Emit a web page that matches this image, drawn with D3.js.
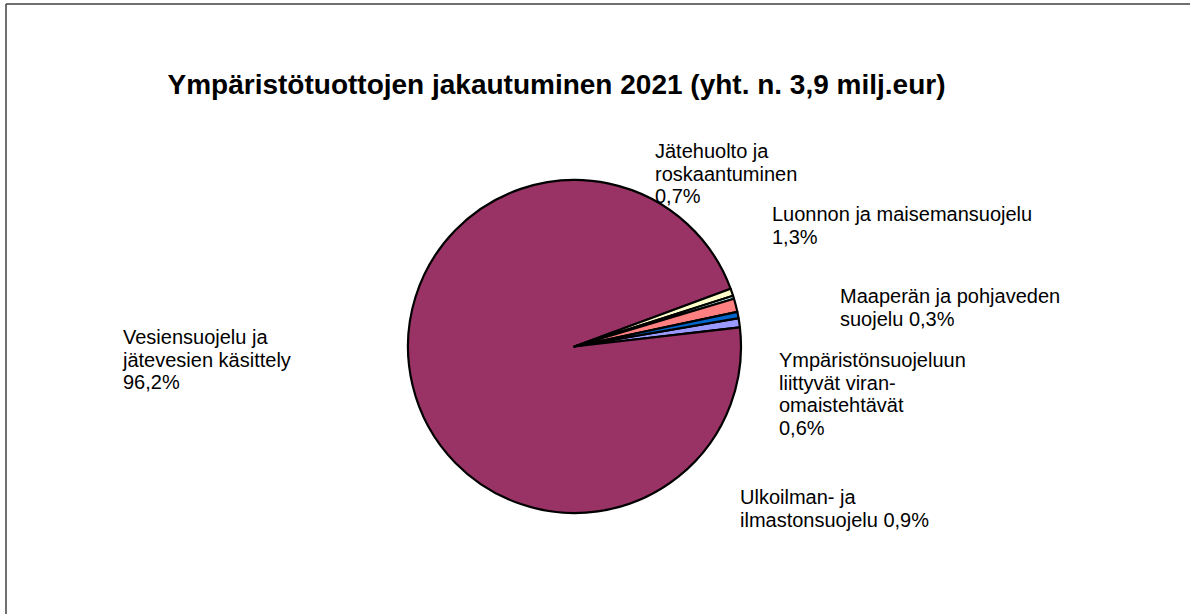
<!DOCTYPE html>
<html><head><meta charset="utf-8">
<script src="https://cdn.jsdelivr.net/npm/d3@7"></script>
<style>html,body{margin:0;padding:0;background:#fff;overflow:hidden}svg{display:block}</style>
</head><body>
<script>
// Data (clockwise slice order)
const categories = [
  "Ulkoilman- ja ilmastonsuojelu",
  "Vesiensuojelu ja jätevesien käsittely",
  "Jätehuolto ja roskaantuminen",
  "Maaperän ja pohjaveden suojelu",
  "Luonnon ja maisemansuojelu",
  "Ympäristönsuojeluun liittyvät viranomaistehtävät"
];
const values = [0.9, 96.2, 0.7, 0.3, 1.3, 0.6];
const valueLabels = ["0,9%", "96,2%", "0,7%", "0,3%", "1,3%", "0,6%"];
const colors = ["#9999FF", "#993366", "#FFFFCC", "#CCFFFF", "#FF8080", "#0066CC"];
// label text lines as shown in chart
const labelLines = [
  ["Ulkoilman- ja", "ilmastonsuojelu 0,9%"],
  ["Vesiensuojelu ja", "jätevesien käsittely", "96,2%"],
  ["Jätehuolto ja", "roskaantuminen", "0,7%"],
  ["Maaperän ja pohjaveden", "suojelu 0,3%"],
  ["Luonnon ja maisemansuojelu", "1,3%"],
  ["Ympäristönsuojeluun", "liittyvät viran-", "omaistehtävät", "0,6%"]
];
const title = "Ympäristötuottojen jakautuminen 2021 (yht. n. 3,9 milj.eur)";

// Layout
const W = 1190, H = 614;
const cx = 574.5, cy = 346.5, R = 166.5;
const firstSliceStartDeg = 80.16;
const labelPos = [ [740, 504], [123, 344], [655, 158], [840, 303], [772, 221], [779, 367] ];
const lineH = 22.5;

const svg = d3.select("body").append("svg").attr("width", W).attr("height", H);

svg.append("line").attr("x1", 6).attr("y1", 4).attr("x2", W).attr("y2", 4)
  .attr("stroke", "#404040").attr("stroke-width", 1.5);
svg.append("line").attr("x1", 6).attr("y1", 4).attr("x2", 6).attr("y2", H)
  .attr("stroke", "#404040").attr("stroke-width", 1.5);

svg.append("text").attr("x", 556.5).attr("y", 94).attr("text-anchor", "middle")
  .attr("font-family", "Liberation Sans, Arial, sans-serif").attr("font-weight", "bold")
  .attr("font-size", 28).attr("fill", "#000").text(title);

const a0 = firstSliceStartDeg * Math.PI / 180;
const pie = d3.pie().sort(null).value(d => d).startAngle(a0).endAngle(a0 + 2 * Math.PI);
const arc = d3.arc().innerRadius(0).outerRadius(R);
const arcs = pie(values);

const g = svg.append("g").attr("transform", `translate(${cx},${cy})`);
g.selectAll("path").data(arcs).enter().append("path")
  .attr("d", arc).attr("fill", (d, i) => colors[i])
  .attr("stroke", "#000").attr("stroke-width", 2.2).attr("stroke-linejoin", "round");

const lg = svg.append("g").attr("font-family", "Liberation Sans, Arial, sans-serif")
  .attr("font-size", 20).attr("fill", "#000");
labelLines.forEach((lines, i) => {
  const t = lg.append("text").attr("x", labelPos[i][0]).attr("y", labelPos[i][1]);
  lines.forEach((ln, j) => {
    t.append("tspan").attr("x", labelPos[i][0]).attr("y", labelPos[i][1] + j * lineH).text(ln);
  });
});
</script>
</body></html>
